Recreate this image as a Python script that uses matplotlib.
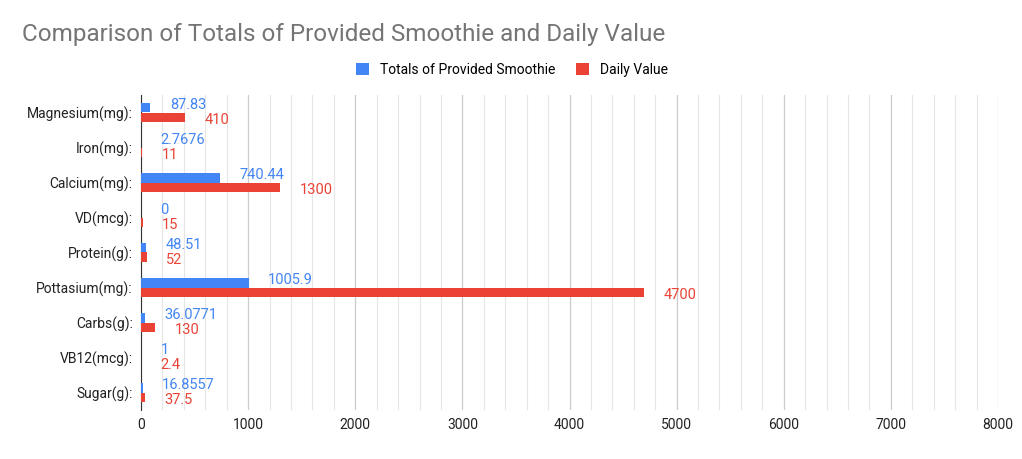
import matplotlib.pyplot as plt
import numpy as np
from matplotlib.ticker import MultipleLocator

plt.rcParams['font.family'] = ['Roboto', 'DejaVu Sans']

categories = ["Magnesium(mg):", "Iron(mg):", "Calcium(mg):", "VD(mcg):", "Protein(g):",
              "Pottasium(mg):", "Carbs(g):", "VB12(mcg):", "Sugar(g):"]
smoothie = [87.83, 2.7676, 740.44, 0, 48.51, 1005.9, 36.0771, 1, 16.8557]
smoothie_labels = ["87.83", "2.7676", "740.44", "0", "48.51", "1005.9", "36.0771", "1", "16.8557"]
daily = [410, 11, 1300, 15, 52, 4700, 130, 2.4, 37.5]
daily_labels = ["410", "11", "1300", "15", "52", "4700", "130", "2.4", "37.5"]

BLUE = '#4285F4'
RED = '#EA4335'

fig = plt.figure(figsize=(10.22, 4.59), dpi=100)
ax = fig.add_axes([141/1022, 1 - 410/459, 857/1022, 315/459])

y = np.arange(len(categories))
h = 0.28
ax.barh(y - h/2, smoothie, height=h, color=BLUE, zorder=3, label="Totals of Provided Smoothie")
ax.barh(y + h/2, daily, height=h, color=RED, zorder=3, label="Daily Value")

for yi, v, t in zip(y, smoothie, smoothie_labels):
    ax.annotate(t, (v, yi - h/2), xytext=(14, 2), textcoords='offset points',
                ha='left', va='center', color=BLUE, fontsize=10.5)
for yi, v, t in zip(y, daily, daily_labels):
    ax.annotate(t, (v, yi + h/2), xytext=(14, -2), textcoords='offset points',
                ha='left', va='center', color=RED, fontsize=10.5)

ax.set_xlim(0, 8000)
ax.set_ylim(len(categories) - 0.5, -0.5)
ax.set_yticks(y)
ax.set_yticklabels(categories, fontsize=10, color='#222222')
ax.xaxis.set_major_locator(MultipleLocator(1000))
ax.xaxis.set_minor_locator(MultipleLocator(200))
ax.grid(axis='x', which='major', color='#cccccc', lw=0.9, zorder=0)
ax.grid(axis='x', which='minor', color='#e6e6e6', lw=0.8, zorder=0)
ax.tick_params(axis='both', which='both', length=0, labelsize=10, colors='#222222', pad=6)
for s in ['top', 'right', 'bottom']:
    ax.spines[s].set_visible(False)
ax.spines['left'].set_color('#333333')

fig.text(22/1022, 1 - 35/459, "Comparison of Totals of Provided Smoothie and Daily Value",
         fontsize=17.5, color='#757575', va='center', ha='left')
fig.legend(loc='center', bbox_to_anchor=(512/1022, 1 - 70/459), ncol=2, frameon=False,
           fontsize=10, handlelength=0.9, handleheight=0.9, columnspacing=1.5)

fig.savefig("out.png", dpi=100)
